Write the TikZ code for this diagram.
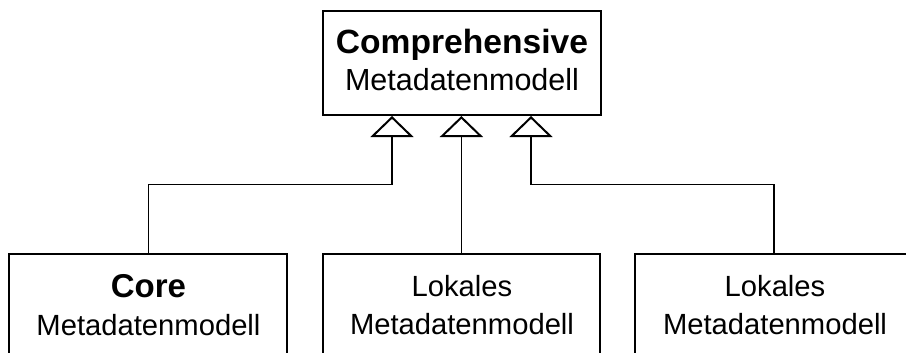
\documentclass[tikz,border=0pt]{standalone}
\usepackage{fontspec}
\setmainfont{Liberation Sans}
\usetikzlibrary{arrows.meta}
\begin{document}
\begin{tikzpicture}[x=1pt,y=-1pt,
  box/.style={draw=black,line width=2pt,fill=white,inner sep=0pt},
  lbl/.style={anchor=base,inner sep=0pt},
  inh/.style={draw=black,line width=1.2pt,
    -{Triangle[open,length=21pt,width=43pt,line width=2pt,fill=white]}},
  bigbold/.style={font=\fontsize{33.6}{40}\selectfont\bfseries},
  topreg/.style={font=\fontsize{30.5}{36}\selectfont},
  reg/.style={font=\fontsize{29.2}{35}\selectfont}]
\useasboundingbox (0,0) rectangle (906,353);
\clip (0,0) rectangle (906,353);
% boxes
\node[box,minimum width=278.3pt,minimum height=104pt] (top) at (461.85,63) {};
\node[box,minimum width=278pt,minimum height=146pt] (core) at (148.3,327.3) {};
\node[box,minimum width=277.3pt,minimum height=146pt] (mid) at (461.4,327.3) {};
\node[box,minimum width=278pt,minimum height=146pt] (right) at (774,327.3) {};
% texts
\node[lbl,bigbold] (t1) at (462,54) {Comprehensive};
\node[lbl,topreg] (t2) at (462,90.7) {Metadatenmodell};
\node[lbl,bigbold,font=\fontsize{33}{40}\selectfont\bfseries] (c1) at (148.5,297.3) {Core};
\node[lbl,reg] (c2) at (148.5,335) {Metadatenmodell};
\node[lbl,reg] (m1) at (462,296) {Lokales};
\node[lbl,reg] (m2) at (462,334) {Metadatenmodell};
\node[lbl,reg] (r1) at (775,296) {Lokales};
\node[lbl,reg] (r2) at (775,334) {Metadatenmodell};
% connectors
\coordinate (j1) at (392,184.3);
\coordinate (j3) at (531,184.3);
\draw[inh] (core.north) |- (j1) -- (j1 |- top.south);
\draw[inh] (mid.north) -- (mid.north |- top.south);
\draw[inh] (right.north) |- (j3) -- (j3 |- top.south);
\end{tikzpicture}
\end{document}
